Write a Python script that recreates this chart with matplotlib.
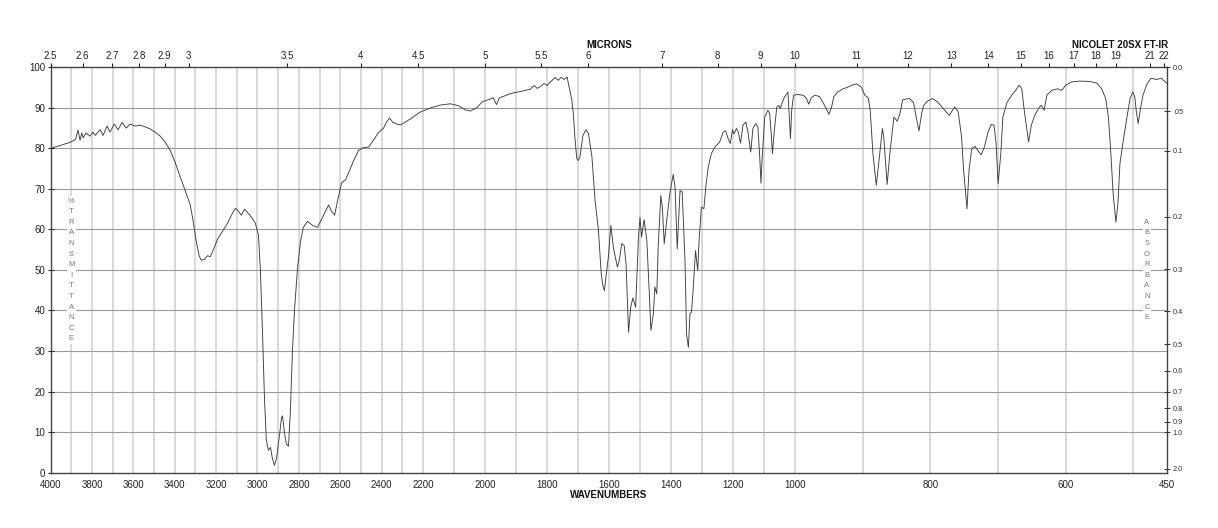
import numpy as np
import matplotlib
matplotlib.use('Agg')
import matplotlib.pyplot as plt
from matplotlib.ticker import FixedLocator, NullLocator

plt.rcParams['font.family'] = ['Liberation Sans', 'DejaVu Sans']

# ---------------- data (wavenumber cm-1, %T) ----------------
wavenumber = [
    4000, 3955, 3906, 3880, 3868, 3858, 3850, 3843, 3829, 3810, 3795, 3785, 3761, 3747,
    3727, 3713, 3693, 3674, 3655, 3635, 3616, 3592, 3567, 3543, 3519, 3495, 3470, 3446,
    3422, 3398, 3374, 3349, 3325, 3311, 3296, 3282, 3272, 3257, 3242, 3228, 3213, 3194,
    3170, 3145, 3121, 3107, 3092, 3078, 3063, 3049, 3029, 3010, 2995, 2986, 2976, 2966,
    2957, 2947, 2937, 2928, 2918, 2908, 2894, 2884, 2879, 2870, 2860, 2850, 2841, 2831,
    2821, 2807, 2792, 2778, 2758, 2734, 2710, 2690, 2671, 2656, 2642, 2627, 2613, 2593,
    2574, 2555, 2535, 2511, 2487, 2463, 2439, 2414, 2390, 2376, 2361, 2347, 2327, 2308,
    2284, 2260, 2235, 2211,
    2175, 2143, 2111, 2085, 2063, 2047, 2027, 2008, 1989, 1973, 1963, 1953, 1934, 1918,
    1902, 1886, 1870, 1854, 1841, 1832, 1822, 1809, 1800, 1787, 1774, 1764, 1755, 1745,
    1735, 1732, 1720, 1715, 1710, 1704, 1699, 1694, 1684, 1674, 1666, 1655, 1645, 1634,
    1625, 1620, 1615, 1610, 1602, 1594, 1586, 1573, 1567, 1559, 1551, 1545, 1537, 1530,
    1523, 1514, 1505, 1500, 1495, 1487, 1478, 1470, 1465, 1457, 1452, 1446, 1441, 1433,
    1428, 1422, 1414, 1404, 1393, 1387, 1380, 1371, 1364, 1355, 1350, 1344, 1339, 1334,
    1329, 1321, 1314, 1309, 1302, 1294, 1288, 1280, 1270, 1259, 1243, 1232, 1224, 1216,
    1209, 1202, 1197, 1189, 1183, 1176, 1168, 1159, 1152, 1143, 1136, 1127, 1120, 1114,
    1110, 1106, 1098, 1088, 1082, 1077, 1073, 1068, 1059, 1052, 1048, 1041, 1034, 1023,
    1020, 1015, 1011, 1005,
    996, 988, 983, 980, 976, 971, 964, 959, 954, 950, 946, 943, 937, 929, 922, 914, 909,
    902, 897, 892, 889, 885, 880, 876, 871, 869, 864, 860, 854, 849, 845, 841, 831, 825,
    821, 817, 813, 810, 805, 797, 789, 779, 772, 769, 764, 759, 754, 751, 746, 743, 739,
    734, 730, 725, 720, 715, 710, 706, 703, 700, 696, 693, 687, 680, 674, 669, 665, 662,
    658, 655, 651, 646, 639, 636, 632, 628, 621, 612, 606, 600, 591, 579, 564, 554, 547,
    541, 537, 534, 530, 526, 523, 520, 515, 510, 505, 501, 498, 496, 493, 490, 486, 480,
    474, 466, 459, 451, 450,
]
transmittance = [
    80.0, 80.7, 81.5, 82.2, 84.5, 82.0, 83.8, 82.6, 83.8, 83.0, 84.0, 83.2, 84.6, 83.2,
    85.5, 84.0, 86.0, 84.6, 86.4, 85.0, 86.0, 85.5, 85.7, 85.3, 84.8, 84.0, 83.0, 81.5,
    79.5, 76.5, 73.0, 69.5, 66.0, 62.0, 57.0, 53.5, 52.4, 52.6, 53.5, 53.3, 55.0, 57.5,
    59.5, 61.5, 64.0, 65.2, 64.5, 63.5, 65.0, 64.2, 63.0, 61.5, 58.5, 50.0, 35.0, 18.0,
    8.0, 5.5, 6.2, 3.5, 1.8, 3.5, 9.0, 13.5, 14.0, 10.0, 7.0, 6.5, 15.0, 30.0,
    40.0, 50.0, 57.0, 60.5, 62.0, 61.0, 60.5, 62.5, 64.5, 66.0, 64.5, 63.5, 67.0, 71.5,
    72.3, 74.5, 77.0, 79.5, 80.2, 80.3, 82.0, 84.0, 85.0, 86.5, 87.5, 86.5, 86.0, 85.8,
    86.5, 87.3, 88.2, 89.0,
    90.0, 90.7, 91.0, 90.5, 89.5, 89.2, 90.0, 91.5, 92.0, 92.5, 90.8, 92.5, 93.0, 93.5,
    93.8, 94.0, 94.3, 94.6, 95.5, 94.8, 95.2, 96.0, 95.5, 96.5, 97.5, 96.8, 97.5, 97.0,
    97.6, 96.4, 92.0, 88.6, 82.8, 77.5, 77.0, 77.9, 83.2, 84.6, 83.6, 77.9, 67.2, 59.8,
    49.0, 46.2, 44.9, 48.2, 53.2, 61.0, 55.6, 50.7, 52.3, 56.5, 56.0, 51.5, 34.6, 40.8,
    43.1, 40.8, 58.1, 62.9, 58.1, 62.4, 57.3, 44.1, 35.1, 39.2, 45.8, 44.1, 56.5, 68.4,
    65.5, 56.5, 62.2, 68.8, 73.6, 70.4, 55.2, 69.6, 69.2, 52.3, 34.2, 30.9, 39.2, 39.6,
    44.9, 54.8, 49.9, 58.1, 65.5, 65.1, 70.4, 75.4, 78.7, 80.3, 81.6, 84.0, 84.3, 82.4,
    81.2, 84.6, 83.6, 84.9, 84.0, 81.3, 85.7, 86.5, 84.0, 79.1, 84.9, 86.1, 85.3, 77.9,
    71.4, 77.9, 87.7, 89.4, 88.6, 83.6, 78.7, 83.6, 90.2, 90.6, 89.8, 91.4, 92.7, 93.9,
    89.4, 82.4, 89.4, 93.1,
    93.3, 93.1, 92.3, 90.9, 92.5, 93.1, 92.8, 91.4, 89.8, 88.4, 90.2, 92.7, 93.9, 94.7, 95.1, 95.7, 95.9,
    95.1, 93.1, 92.5, 89.4, 78.7, 70.9, 77.0, 84.9, 82.8, 71.1, 78.7, 87.7, 86.7, 88.6, 92.0, 92.3, 91.3,
    87.7, 84.3, 88.6, 90.6, 91.6, 92.3, 91.4, 89.4, 88.1, 89.0, 90.2, 89.0, 82.8, 74.6, 65.1, 74.6, 79.9,
    80.5, 79.5, 78.4, 80.5, 84.0, 85.9, 85.7, 81.2, 71.3, 78.7, 87.7, 91.3, 93.1, 94.3, 95.6, 94.7, 90.2,
    85.3, 81.6, 85.7, 88.1, 90.2, 90.6, 89.4, 93.1, 94.3, 94.7, 94.3, 95.6, 96.4, 96.6, 96.5, 96.1, 94.7,
    92.3, 87.7, 80.3, 68.8, 61.8, 66.3, 76.2, 82.0, 87.3, 92.3, 93.9, 92.7, 89.4, 86.1, 89.4, 93.1, 95.9,
    97.3, 97.0, 97.3, 96.1, 96.0,
]

wn_tick_labels = [4000, 3800, 3600, 3400, 3200, 3000, 2800, 2600, 2400, 2200, 2000,
                  1800, 1600, 1400, 1200, 1000, 800, 600, 450]
micron_labels = ['2.5', '2.6', '2.7', '2.8', '2.9', '3', '3.5', '4', '4.5', '5', '5.5',
                 '6', '7', '8', '9', '10', '11', '12', '13', '14', '15', '16', '17',
                 '18', '19', '21', '22']
absorbance_labels = ['0.0', '.05', '0.1', '0.2', '0.3', '0.4', '0.5', '0.6', '0.7',
                     '0.8', '0.9', '1.0', '2.0']
absorbance_values = [0.0, 0.05, 0.1, 0.2, 0.3, 0.4, 0.5, 0.6, 0.7, 0.8, 0.9, 1.0, 2.0]

# ---------------- piecewise-linear wavenumber scale ----------------
BWN = np.array([450.0, 1000.0, 2200.0, 4000.0])
BPOS = np.array([0.0, 1.0, 2.0, 3.0])


def fwd(w):
    w = np.asarray(w, dtype=float)
    out = np.interp(w, BWN, BPOS)
    out = np.where(w < 450, (w - 450) / 550.0, out)
    out = np.where(w > 4000, 3.0 + (w - 4000) / 1800.0, out)
    return out


def inv(p):
    p = np.asarray(p, dtype=float)
    out = np.interp(p, BPOS, BWN)
    out = np.where(p < 0, 450 + p * 550.0, out)
    out = np.where(p > 3, 4000 + (p - 3) * 1800.0, out)
    return out


W, H = 1218, 528
fig = plt.figure(figsize=(W / 100, H / 100), dpi=100)
left, right, top, bottom = 50.7, 1167.3, 67.3, 472.6
ax = fig.add_axes([left / W, 1 - bottom / H, (right - left) / W, (bottom - top) / H])
ax.set_xscale('function', functions=(fwd, inv))
ax.set_xlim(4000, 450)
ax.set_ylim(0, 100)

# grid
vgrid = list(range(3900, 400, -100))
for g in vgrid:
    ax.axvline(g, color='#cfcfcf', lw=1.1, zorder=1)
for t in range(10, 100, 10):
    ax.axhline(t, color='#9a9a9a', lw=0.8, zorder=1)

ax.plot(wavenumber, transmittance, color='#3c3c3c', lw=0.65, zorder=3)

spine_c = '#444444'
for s in ax.spines.values():
    s.set_color(spine_c)
    s.set_linewidth(1.0)

ax.xaxis.set_major_locator(FixedLocator(wn_tick_labels))
ax.set_xticklabels([str(v) for v in wn_tick_labels])
ax.xaxis.set_minor_locator(NullLocator())
ax.tick_params(axis='x', length=0, pad=5, labelsize=7, colors='#222222')
ax.set_yticks(range(0, 101, 10))
ax.tick_params(axis='y', direction='inout', length=4, width=0.8, pad=2, labelsize=7,
               colors='#222222')

# top micron axis
axt = ax.twiny()
axt.set_xscale('function', functions=(fwd, inv))
axt.set_xlim(4000, 450)
axt.xaxis.set_major_locator(FixedLocator([1e4 / float(m) for m in micron_labels]))
axt.set_xticklabels(micron_labels)
axt.xaxis.set_minor_locator(NullLocator())
axt.tick_params(axis='x', direction='out', length=3, width=0.8, pad=1.5, labelsize=7,
                colors='#222222')
for s in axt.spines.values():
    s.set_visible(False)

# right absorbance axis
axr = ax.twinx()
axr.set_ylim(0, 100)
axr.set_yticks([100 * 10 ** (-a) for a in absorbance_values])
axr.set_yticklabels(absorbance_labels)
axr.yaxis.set_minor_locator(NullLocator())
axr.tick_params(axis='y', direction='inout', length=5, width=0.7, pad=1.5, labelsize=5.3,
                colors='#333333')
for s in axr.spines.values():
    s.set_visible(False)

# vertical stacked labels
ax.text(3900, 50, '\n'.join('%TRANSMITTANCE'), ha='center', va='center', fontsize=5.5,
        color='#777777', linespacing=1.72, zorder=4,
        bbox=dict(facecolor='white', edgecolor='none', pad=1.0))
ax.text(480, 50, '\n'.join('ABSORBANCE'), ha='center', va='center', fontsize=5.5,
        color='#777777', linespacing=1.72, zorder=4,
        bbox=dict(facecolor='white', edgecolor='none', pad=1.0))

fig.text(609 / W, 1 - 45 / H, 'MICRONS', ha='center', va='center', fontsize=7,
         fontweight='bold', color='#111111')
fig.text(1120 / W, 1 - 45 / H, 'NICOLET 20SX FT-IR', ha='center', va='center',
         fontsize=7, fontweight='bold', color='#111111')
fig.text(609 / W, 1 - 495 / H, 'WAVENUMBERS', ha='center', va='center', fontsize=7,
         fontweight='bold', color='#111111')

fig.savefig('out.png', dpi=100)
